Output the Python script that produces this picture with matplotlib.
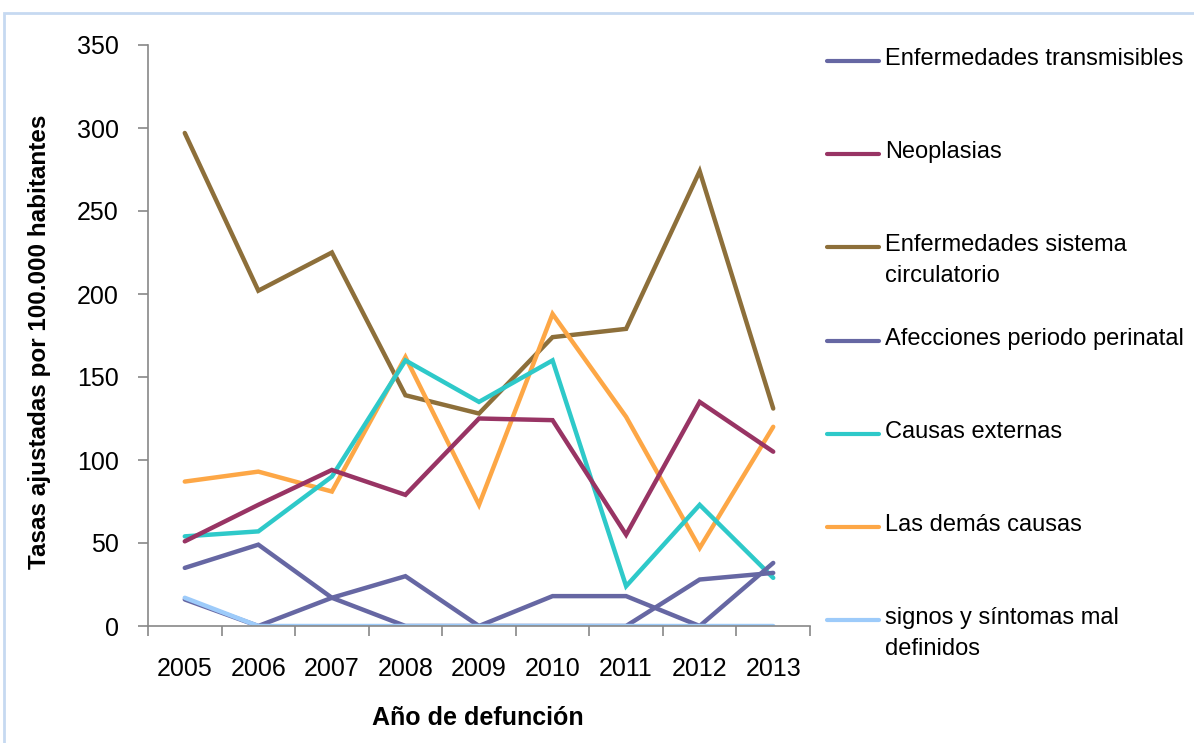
import matplotlib
matplotlib.use("Agg")
import matplotlib.pyplot as plt
from matplotlib.lines import Line2D
from matplotlib.patches import Rectangle

plt.rcParams['font.family'] = ['Liberation Sans', 'DejaVu Sans']

years = ['2005', '2006', '2007', '2008', '2009', '2010', '2011', '2012', '2013']

transmisibles = [16, 0, 17, 30, 0, 18, 18, 0, 38]
neoplasias = [51, 73, 94, 79, 125, 124, 55, 135, 105]
circulatorio = [297, 202, 225, 139, 128, 174, 179, 274, 131]
perinatal = [35, 49, 17, 0, 0, 0, 0, 28, 32]
externas = [54, 57, 90, 160, 135, 160, 24, 73, 29]
demas = [87, 93, 81, 162, 73, 188, 126, 47, 120]
mal_definidos = [17, 0, 0, 0, 0, 0, 0, 0, 0]

labels = ['Enfermedades transmisibles', 'Neoplasias',
          'Enfermedades sistema\ncirculatorio', 'Afecciones periodo perinatal',
          'Causas externas', 'Las demás causas',
          'signos y síntomas mal\ndefinidos']
colors = ['#6667A3', '#983464', '#8D6F3A', '#6667A3', '#2EC9C9', '#FDA746', '#9DCBFA']
series = [transmisibles, neoplasias, circulatorio, perinatal, externas, demas, mal_definidos]

fig = plt.figure(figsize=(11.94, 7.43), dpi=100)
fig.patches.append(Rectangle((4 / 1194, -0.01), 1.02, 1 - 13 / 743 + 0.01,
                             transform=fig.transFigure, fill=False,
                             edgecolor='#C6D9F1', linewidth=2))

ax = fig.add_axes([148 / 1194, 1 - 626 / 743, 662 / 1194, 581 / 743])
x = list(range(len(years)))

# draw so that light blue sits above
order = [2, 5, 4, 1, 3, 0, 6]
for i in order:
    ax.plot(x, series[i], color=colors[i], linewidth=3.2,
            solid_capstyle='round', solid_joinstyle='miter')

ax.set_xlim(-0.5, len(years) - 0.5)
ax.set_ylim(0, 350)
ax.set_yticks(range(0, 351, 50))
ax.set_xticks(x)
ax.set_xticklabels(years)
ax.set_xticks([v - 0.5 for v in range(len(years) + 1)], minor=True)
ax.tick_params(axis='x', which='major', length=0, pad=22, labelsize=18)
ax.tick_params(axis='x', which='minor', length=7, color='#888888', width=1.2)
ax.tick_params(axis='y', length=7, color='#888888', width=1.2, pad=14, labelsize=18)
for s in ['top', 'right']:
    ax.spines[s].set_visible(False)
for s in ['left', 'bottom']:
    ax.spines[s].set_color('#888888')
    ax.spines[s].set_linewidth(1.2)

fig.text(40 / 1194, 1 - 342 / 743, 'Tasas ajustadas por 100.000 habitantes',
         rotation=90, ha='center', va='center', fontsize=17.5, fontweight='bold')
fig.text(478 / 1194, 1 - 718 / 743, 'Año de defunción', ha='center', va='center',
         fontsize=18, fontweight='bold')

# legend, drawn by hand to keep Excel's even spacing
for k, (lab, col) in enumerate(zip(labels, colors)):
    yc = 1 - (61 + 93.2 * k) / 743
    fig.add_artist(Line2D([827 / 1194, 879 / 1194], [yc, yc], color=col,
                          linewidth=3, solid_capstyle='round',
                          transform=fig.transFigure))
    fig.text(885 / 1194, yc + 13 / 743, lab, ha='left', va='top', fontsize=17,
             linespacing=1.5, transform=fig.transFigure)

fig.savefig('out.png', dpi=100)
